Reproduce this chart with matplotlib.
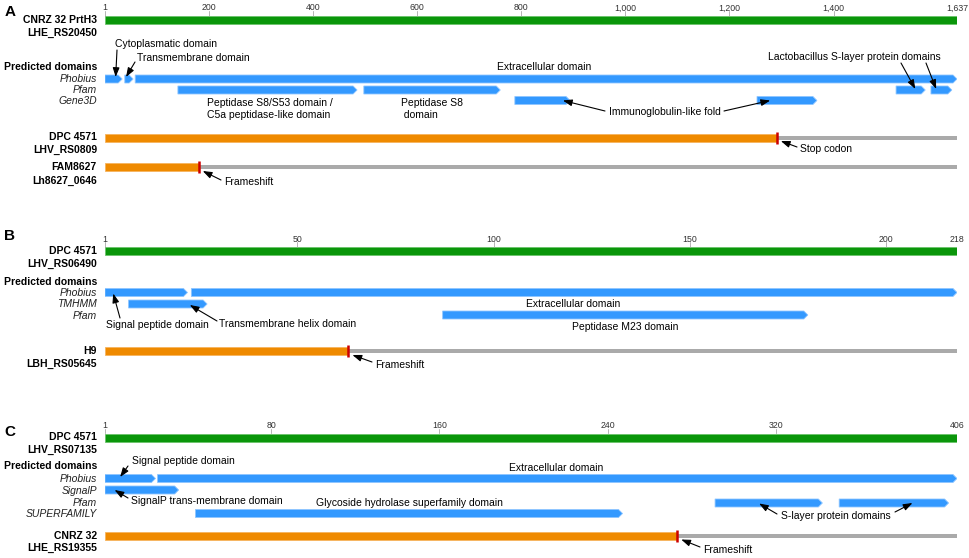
"""Domain maps of three Lactobacillus proteins (panels A-C)."""
import matplotlib

matplotlib.use("Agg")
import matplotlib.pyplot as plt
from matplotlib.patches import Polygon, Rectangle
from matplotlib.transforms import Affine2D

plt.rcParams["font.family"] = ["Liberation Sans", "DejaVu Sans"]

W, H = 970, 558
X0, X1 = 105, 957  # pixel span of a full-length protein bar
LABEL_X = 97

GREEN, GREEN_EDGE = "#0a960a", "#6cc46c"
BLUE, BLUE_EDGE = "#3399ff", "#8fc6ff"
ORANGE, ORANGE_EDGE = "#ef8a00", "#f6b45e"
GRAY = "#aaaaaa"
RED = "#cc0000"

# ---- panel A: PrtH3 ----
a_length = 1637
a_ticks = [1, 200, 400, 600, 800, 1000, 1200, 1400, 1637]
a_phobius = [(1, 34), (39, 55), (59, 1637)]
a_pfam = [(141, 485), (498, 760), (1520, 1576), (1587, 1627)]
a_gene3d = [(788, 894), (1253, 1368)]
a_dpc4571_stop = 1291
a_fam8627_frameshift = 181

# ---- panel B ----
b_length = 218
b_ticks = [1, 50, 100, 150, 200, 218]
b_phobius = [(1, 22), (23, 218)]
b_tmhmm = [(7, 27)]
b_pfam = [(87, 180)]
b_h9_frameshift = 63

# ---- panel C ----
c_length = 406
c_ticks = [1, 80, 160, 240, 320, 406]
c_phobius = [(1, 25), (26, 406)]
c_signalp = [(1, 36)]
c_pfam = [(291, 342), (350, 402)]
c_superfamily = [(44, 247)]
c_cnrz32_frameshift = 273


fig = plt.figure(figsize=(W / 100, H / 100), dpi=100)
PIX = Affine2D().scale(1 / W, -1 / H).translate(0, 1) + fig.transFigure


def panel_axes(length):
    ax = fig.add_axes([X0 / W, 0, (X1 - X0) / W, 1])
    ax.set_xlim(1, length)
    ax.set_ylim(H, 0)
    ax.axis("off")
    return ax


def px_to_res(ax, px):
    lo, hi = ax.get_xlim()
    return px * (hi - lo) / (X1 - X0)


def label(x, y, s, **kw):
    kw.setdefault("fontsize", 7.5)
    fig.text(x / W, 1 - y / H, s, va="center", **kw)


def row_labels(rows):
    for text, y, style in rows:
        if style == "bold":
            label(LABEL_X, y, text, ha="right", fontweight="bold")
        else:
            label(LABEL_X, y, text, ha="right", fontstyle="italic", color="#222222")


def ruler(ax, ticks, bar_y, tick_y):
    length = ticks[-1]
    ax.add_patch(Rectangle((1, bar_y - 4), length - 1, 8, fc=GREEN, ec=GREEN_EDGE, lw=0.6))
    for t in ticks:
        ax.text(t, tick_y, f"{t:,}", ha="center", va="center", fontsize=6.3, color="#333333")
        ax.plot([t, t], [tick_y + 2.5, bar_y - 4.5], color="#999999", lw=0.5)


def domains(ax, spans, y, h=8, tip_px=4):
    tip_full = px_to_res(ax, tip_px)
    for start, end in spans:
        tip = min(tip_full, (end - start) * 0.5)
        pts = [(start, y - h / 2), (end - tip, y - h / 2), (end, y),
               (end - tip, y + h / 2), (start, y + h / 2)]
        ax.add_patch(Polygon(pts, closed=True, fc=BLUE, ec=BLUE_EDGE, lw=0.6))


def homolog(ax, end, y, length, mark=True):
    ax.add_patch(Rectangle((1, y - 4), end - 1, 8, fc=ORANGE, ec=ORANGE_EDGE, lw=0.6))
    if end < length:
        ax.add_patch(Rectangle((end, y - 2), length - end, 4, fc=GRAY, ec="none"))
    if mark:
        ax.plot([end, end], [y - 6, y + 6], color=RED, lw=1.8, solid_capstyle="butt")


def arrow(ax, tail, target):
    ax.annotate("", xy=target, xycoords="data", xytext=tail, textcoords=PIX,
                annotation_clip=False,
                arrowprops=dict(arrowstyle="-|>,head_length=0.55,head_width=0.2",
                                color="black", lw=0.8, shrinkA=0, shrinkB=0))


def on(span, frac):
    return span[0] + frac * (span[1] - span[0])


# ================= panel A =================
ax = panel_axes(a_length)
label(10, 11.5, "A", ha="center", fontsize=11, fontweight="bold")
ruler(ax, a_ticks, 20, 8)
row_labels([("CNRZ 32 PrtH3", 20, "bold"), ("LHE_RS20450", 33, "bold"),
            ("Predicted domains", 67, "bold"), ("Phobius", 79, "it"),
            ("Pfam", 90, "it"), ("Gene3D", 101, "it"),
            ("DPC 4571", 137, "bold"), ("LHV_RS0809", 150, "bold"),
            ("FAM8627", 167, "bold"), ("Lh8627_0646", 181, "bold")])
domains(ax, a_phobius, 79)
domains(ax, a_pfam, 90)
domains(ax, a_gene3d, 100.5)
homolog(ax, a_dpc4571_stop, 137.5, a_length)
homolog(ax, a_fam8627_frameshift, 167, a_length)

label(115, 44, "Cytoplasmatic domain")
arrow(ax, (117, 50), (on(a_phobius[0], 0.62), 77))
label(137, 58, "Transmembrane domain")
arrow(ax, (135, 62), (on(a_phobius[1], 0.15), 77))
label(497, 67, "Extracellular domain")
label(768, 57, "Lactobacillus S-layer protein domains")
arrow(ax, (901, 63), (on(a_pfam[2], 0.66), 89))
arrow(ax, (926, 63), (on(a_pfam[3], 0.25), 89))
label(207, 109, "Peptidase S8/S53 domain /\nC5a peptidase-like domain", linespacing=1.25)
label(401, 109, "Peptidase S8\n domain", linespacing=1.25)
label(609, 112, "Immunoglobulin-like fold")
arrow(ax, (605, 111), (on(a_gene3d[0], 0.87), 100.5))
arrow(ax, (724, 111), (on(a_gene3d[1], 0.22), 100.5))
label(800, 149, "Stop codon")
arrow(ax, (797, 147), (a_dpc4571_stop + px_to_res(ax, 4), 141))
label(224, 182, "Frameshift")
arrow(ax, (221, 180), (a_fam8627_frameshift + px_to_res(ax, 4), 171))

# ================= panel B =================
ax = panel_axes(b_length)
label(10, 236, "B", ha="center", fontsize=11, fontweight="bold")
ruler(ax, b_ticks, 251, 239)
row_labels([("DPC 4571", 251, "bold"), ("LHV_RS06490", 264, "bold"),
            ("Predicted domains", 282, "bold"), ("Phobius", 293, "it"),
            ("TMHMM", 304, "it"), ("Pfam", 316, "it"),
            ("H9", 351, "bold"), ("LBH_RS05645", 364, "bold")])
domains(ax, b_phobius, 292.5)
domains(ax, b_tmhmm, 304)
domains(ax, b_pfam, 315)
homolog(ax, b_h9_frameshift, 351, b_length)

label(106, 325, "Signal peptide domain")
arrow(ax, (120, 318), (on(b_phobius[0], 0.1), 293.5))
label(219, 324, "Transmembrane helix domain")
arrow(ax, (217, 321), (on(b_tmhmm[0], 0.78), 305))
label(526, 304, "Extracellular domain")
label(572, 327, "Peptidase M23 domain")
label(375, 365, "Frameshift")
arrow(ax, (372, 362), (b_h9_frameshift + px_to_res(ax, 4), 355))

# ================= panel C =================
ax = panel_axes(c_length)
label(10, 431.5, "C", ha="center", fontsize=11, fontweight="bold")
ruler(ax, c_ticks, 437.5, 426)
row_labels([("DPC 4571", 437, "bold"), ("LHV_RS07135", 450, "bold"),
            ("Predicted domains", 466, "bold"), ("Phobius", 479, "it"),
            ("SignalP", 491, "it"), ("Pfam", 503, "it"),
            ("SUPERFAMILY", 514, "it"),
            ("CNRZ 32", 536, "bold"), ("LHE_RS19355", 548, "bold")])
domains(ax, c_phobius, 478.5)
domains(ax, c_signalp, 490)
domains(ax, c_pfam, 503)
domains(ax, c_superfamily, 513.5)
homolog(ax, c_cnrz32_frameshift, 535.5, c_length)

label(132, 461, "Signal peptide domain")
arrow(ax, (128, 466), (on(c_phobius[0], 0.3), 477))
label(131, 501, "SignalP trans-membrane domain")
arrow(ax, (128, 498), (on(c_signalp[0], 0.13), 490))
label(316, 503, "Glycoside hydrolase superfamily domain")
label(509, 468, "Extracellular domain")
label(781, 516, "S-layer protein domains")
arrow(ax, (777, 514), (on(c_pfam[0], 0.41), 503.5))
arrow(ax, (895, 512), (on(c_pfam[1], 0.67), 503))
label(703, 550, "Frameshift")
arrow(ax, (700, 547), (c_cnrz32_frameshift + px_to_res(ax, 4), 539.5))

fig.savefig("out.png", dpi=100)
